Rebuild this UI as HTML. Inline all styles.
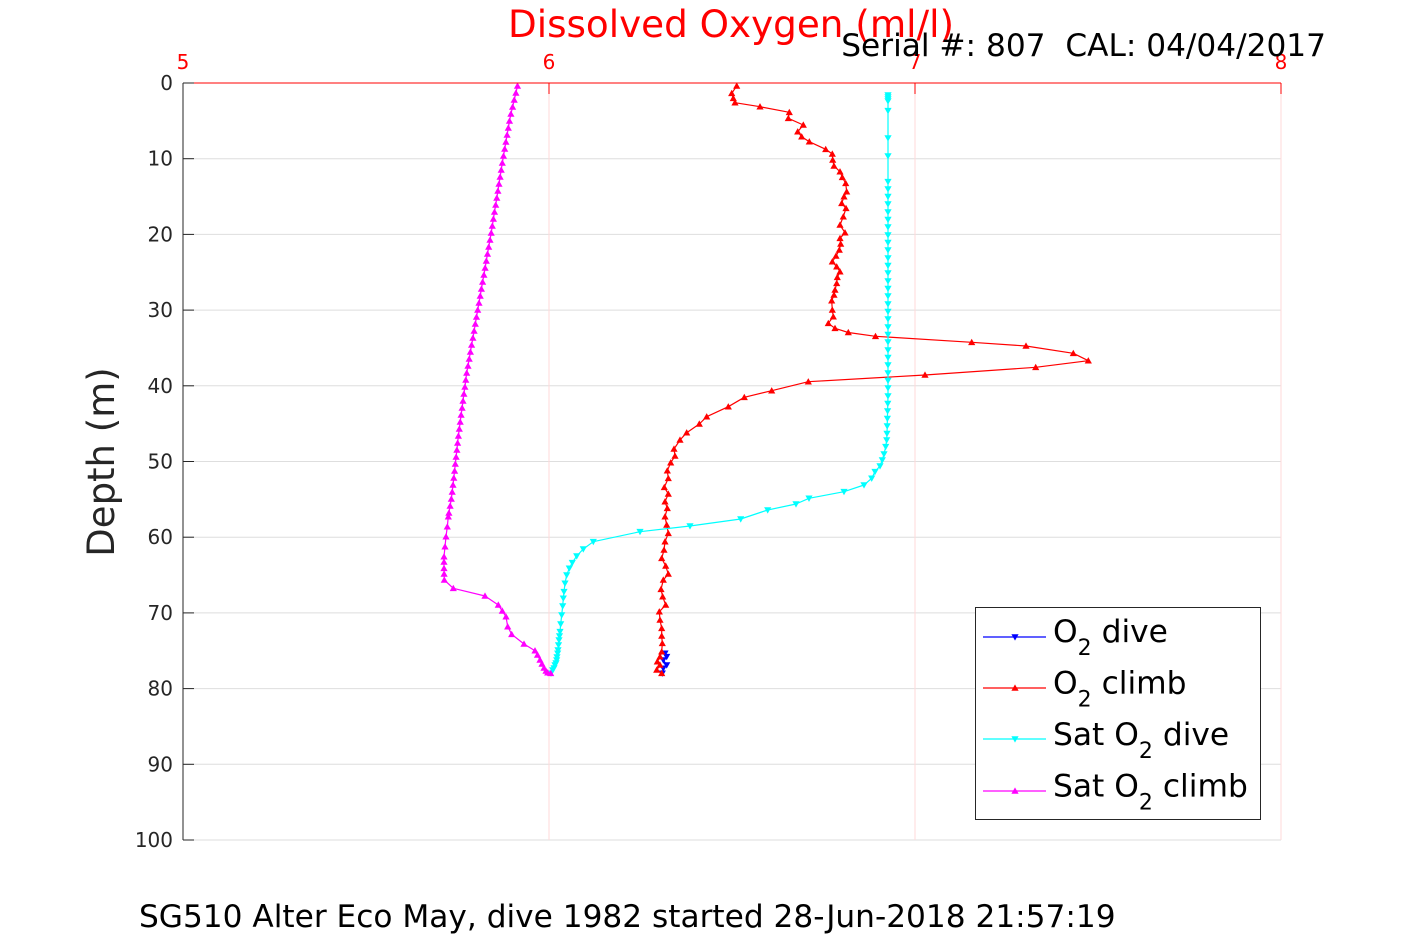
<!DOCTYPE html>
<html><head><meta charset="utf-8"><style>
html,body{margin:0;padding:0;background:#fff;}
svg{display:block;font-family:"DejaVu Sans","Liberation Sans",sans-serif;}
</style></head><body>
<svg width="1417" height="945" viewBox="0 0 1417 945" xmlns="http://www.w3.org/2000/svg">
<defs>
<marker id="mr" markerUnits="userSpaceOnUse" markerWidth="9" markerHeight="9" viewBox="-4.5 -4.5 9 9" refX="0" refY="0"><path d="M0,-3.6 L3.6,2.8 L-3.6,2.8 Z" fill="#ff0000"/></marker>
<marker id="mm" markerUnits="userSpaceOnUse" markerWidth="9" markerHeight="9" viewBox="-4.5 -4.5 9 9" refX="0" refY="0"><path d="M0,-3.6 L3.6,2.8 L-3.6,2.8 Z" fill="#ff00ff"/></marker>
<marker id="mc" markerUnits="userSpaceOnUse" markerWidth="9" markerHeight="9" viewBox="-4.5 -4.5 9 9" refX="0" refY="0"><path d="M0,3.6 L3.6,-2.8 L-3.6,-2.8 Z" fill="#00ffff"/></marker>
<marker id="mb" markerUnits="userSpaceOnUse" markerWidth="9" markerHeight="9" viewBox="-4.5 -4.5 9 9" refX="0" refY="0"><path d="M0,3.6 L3.6,-2.8 L-3.6,-2.8 Z" fill="#0000ff"/></marker>
</defs>
<rect width="1417" height="945" fill="#fff"/>
<!-- grid -->
<g stroke="#dedede" stroke-width="1">
<line x1="183" y1="158.7" x2="1281" y2="158.7"/>
<line x1="183" y1="234.4" x2="1281" y2="234.4"/>
<line x1="183" y1="310.1" x2="1281" y2="310.1"/>
<line x1="183" y1="385.8" x2="1281" y2="385.8"/>
<line x1="183" y1="461.5" x2="1281" y2="461.5"/>
<line x1="183" y1="537.2" x2="1281" y2="537.2"/>
<line x1="183" y1="612.9" x2="1281" y2="612.9"/>
<line x1="183" y1="688.6" x2="1281" y2="688.6"/>
<line x1="183" y1="764.3" x2="1281" y2="764.3"/>
<line x1="183" y1="840" x2="1281" y2="840"/>
</g>
<g stroke="#ffd9d9" stroke-width="1">
<line x1="549" y1="83" x2="549" y2="840"/>
<line x1="915" y1="83" x2="915" y2="840"/>
<line x1="1281" y1="83" x2="1281" y2="840"/>
</g>
<!-- series -->
<g fill="none" stroke-width="1.2" stroke-linejoin="round">
<polyline stroke="#0000ff" marker-start="url(#mb)" marker-mid="url(#mb)" marker-end="url(#mb)" points="665,653.3 666.7,656.7 663.3,660 666.7,665 663.3,668.3 662.3,673.3"/>
<polyline stroke="#ff0000" marker-start="url(#mr)" marker-mid="url(#mr)" marker-end="url(#mr)" points="736.7,86 731.7,93.3 733.3,98.3 735,102.7 760,106.7 789.3,112.3 788.3,118.3 803.3,125 797.7,131.7 801.7,136.7 809.3,141.7 825.7,149.3 832.3,154 832.7,160 834,166 840,171.7 842.3,177.3 845.7,183.3 846.7,191.7 844,196.7 841.7,203.3 846,208.3 843.3,216.7 840,225 845,232.7 840,238.3 840.7,244 839.3,250 836,256 832.3,261.7 836.7,266.7 840,271.7 837.3,277.3 836.7,283.3 835,290 834,295 831.7,300.7 832.3,310 833.3,316.7 828.3,323.3 835,328.3 848.3,332.5 875.5,336.3 971.7,342.3 1026,346 1073.3,353.3 1088.3,360.7 1035.7,367.3 925,375 808.3,381.7 771.7,390.7 744.3,397.3 728.3,406.7 706.7,416.7 699.3,424 686.7,432.7 680,440 674,449 675,456 670.7,462.7 667.3,470.7 668.3,478.3 664.3,487.3 668.3,494 665,501.7 667.3,508.3 665,516.7 666.7,525 668.3,533.3 665,541.7 664,550 661.7,558.3 665.7,566 668.3,574 663.3,580 661,589.3 662.7,596.7 665.7,605 659.3,611.7 660,620 661.7,628.3 661.7,636 662.3,643.3 661.7,651.7 660,656.7 657.3,661.7 660,665 656.7,670 661.7,673.3"/>
<polyline stroke="#00ffff" marker-start="url(#mc)" marker-mid="url(#mc)" marker-end="url(#mc)" points="888,95 888,97 888,99 888,101 888,110.7 888,138 888,156 888,181.7 888,189 888,196.6 888,204 888,212 888,219.5 888,227 888,235 888,242.5 888,250 888,258 888,265.5 888,273 888,281 888,288.5 888,296 888,304 888,311.5 888,319 888,327 888,334.5 888,342 888,350 888,357.5 888,365 888,373 888,380.5 888,388 888,396 887.8,403.5 887.6,411 887.4,418.5 887.2,426 887,433.5 886.7,440 885.7,446.7 884,454 882.3,460 880,466 875,471.7 871.7,478.3 864,485 844,491.7 809,498.3 796,504 767.7,510 740.7,519 690,526 640,531.7 593.3,541.7 583.3,549 576.7,556 572.3,562.7 569.3,568.3 566.7,575 565,583.3 564,591.7 563.3,598.3 562.7,606 561.7,615 560.7,624 560,631.7 559.5,636 559,640 558.5,645 558,650 557.7,653.3 557,657 556.7,660 556,663 555,665 554,668 552.7,670 551,673.3"/>
<polyline stroke="#ff00ff" marker-start="url(#mm)" marker-mid="url(#mm)" marker-end="url(#mm)" points="517.5,86 515.9,93 514.2,100 512.6,107 510.9,114 509.5,121 508.3,128 507.1,135 505.9,142 504.7,149 503.5,156 502.3,163 501.2,170 500.1,177 499,184 497.9,191 496.8,198 495.7,205 494.5,212 493.4,219 492.3,226 491.2,233 490,240 488.7,247 487.5,254 486.3,261 485.1,268 483.9,275 482.6,282 481.4,289 480.2,296 479,303 477.7,310 476.5,317 475.3,324 474.1,331 472.9,338 471.6,345 470.4,352 469.2,359 468,366 466.7,373 465.8,380 464.9,387 463.9,394 463,401 462.1,408 461.1,415 460.2,422 459.3,429 458.4,436 457.6,443 456.9,450 456.1,457 455.3,464 454.6,471 453.8,478 453,485 452.2,492 451.3,499 450.1,506 448.9,513 448.3,516.7 447.3,526.7 446,536.7 445,546.7 444,556.7 444,562 444,568.3 444.1,574 444.3,580 453.3,588.3 485,596 498.3,605 502.3,611 506,616.7 507.7,626.7 511.7,634.3 524,644 535,650.7 537.5,655 540,660 542,664 544,668 546,671 547.7,672.7 550.7,673.3"/>
</g>
<!-- axes -->
<g stroke-width="1">
<line x1="183" y1="83" x2="1281" y2="83" stroke="#ff0000"/>
<line x1="549" y1="83" x2="549" y2="94" stroke="#ff0000"/>
<line x1="915" y1="83" x2="915" y2="94" stroke="#ff0000"/>
<line x1="1281" y1="83" x2="1281" y2="94" stroke="#ff0000"/>
<g stroke="#262626">
<line x1="183" y1="83" x2="183" y2="840"/>
<line x1="183" y1="83" x2="194" y2="83"/>
<line x1="183" y1="158.7" x2="194" y2="158.7"/>
<line x1="183" y1="234.4" x2="194" y2="234.4"/>
<line x1="183" y1="310.1" x2="194" y2="310.1"/>
<line x1="183" y1="385.8" x2="194" y2="385.8"/>
<line x1="183" y1="461.5" x2="194" y2="461.5"/>
<line x1="183" y1="537.2" x2="194" y2="537.2"/>
<line x1="183" y1="612.9" x2="194" y2="612.9"/>
<line x1="183" y1="688.6" x2="194" y2="688.6"/>
<line x1="183" y1="764.3" x2="194" y2="764.3"/>
<line x1="183" y1="840" x2="194" y2="840"/>
</g>
</g>
<!-- y tick labels -->
<g font-size="20" fill="#262626" text-anchor="end">
<text x="173" y="90">0</text>
<text x="173" y="165.7">10</text>
<text x="173" y="241.4">20</text>
<text x="173" y="317.1">30</text>
<text x="173" y="392.8">40</text>
<text x="173" y="468.5">50</text>
<text x="173" y="544.2">60</text>
<text x="173" y="619.9">70</text>
<text x="173" y="695.6">80</text>
<text x="173" y="771.3">90</text>
<text x="173" y="847">100</text>
</g>
<!-- top tick labels -->
<g font-size="20" fill="#ff0000" text-anchor="middle">
<text x="183" y="69">5</text>
<text x="549" y="69">6</text>
<text x="915" y="69">7</text>
<text x="1281" y="69">8</text>
</g>
<text x="731" y="37" font-size="37.3" fill="#ff0000" text-anchor="middle">Dissolved Oxygen (ml/l)</text>
<text x="1326" y="56" font-size="31.2" fill="#000" text-anchor="end" style="white-space:pre" xml:space="preserve">Serial #: 807  CAL: 04/04/2017</text>
<text transform="translate(114,462) rotate(-90)" font-size="37" fill="#262626" text-anchor="middle">Depth (m)</text>
<text x="139" y="927" font-size="31.2" fill="#000">SG510 Alter Eco May, dive 1982 started 28-Jun-2018 21:57:19</text>
<!-- legend -->
<rect x="975.5" y="607.5" width="285" height="212" fill="#fff" stroke="#262626" stroke-width="1"/>
<g stroke-width="1.2">
<line x1="983" y1="637" x2="1046" y2="637" stroke="#0000ff"/>
<line x1="983" y1="688" x2="1046" y2="688" stroke="#ff0000"/>
<line x1="983" y1="739" x2="1046" y2="739" stroke="#00ffff"/>
<line x1="983" y1="791" x2="1046" y2="791" stroke="#ff00ff"/>
</g>
<path d="M1015,640.6 L1018.6,634.2 L1011.4,634.2 Z" fill="#0000ff"/>
<path d="M1015,684.4 L1018.6,690.8 L1011.4,690.8 Z" fill="#ff0000"/>
<path d="M1015,742.6 L1018.6,736.2 L1011.4,736.2 Z" fill="#00ffff"/>
<path d="M1015,787.4 L1018.6,793.8 L1011.4,793.8 Z" fill="#ff00ff"/>
<g font-size="31.3" fill="#000">
<text x="1053" y="642">O<tspan font-size="22" dy="13">2</tspan><tspan dy="-13"> dive</tspan></text>
<text x="1053" y="693.5">O<tspan font-size="22" dy="13">2</tspan><tspan dy="-13"> climb</tspan></text>
<text x="1053" y="745">Sat O<tspan font-size="22" dy="13">2</tspan><tspan dy="-13"> dive</tspan></text>
<text x="1053" y="796.5">Sat O<tspan font-size="22" dy="13">2</tspan><tspan dy="-13"> climb</tspan></text>
</g>
</svg>
</body></html>
